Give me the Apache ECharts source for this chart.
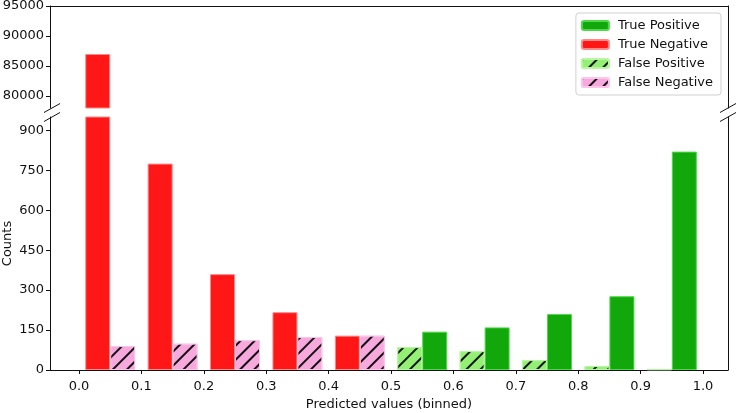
<!DOCTYPE html>
<html>
<head>
<meta charset="utf-8">
<script src="https://cdn.jsdelivr.net/npm/echarts@6/dist/echarts.min.js"></script>
<style>
  html, body { margin: 0; padding: 0; background: #fff; }
  #chart { width: 739px; height: 413px; }
</style>
</head>
<body>
<div id="chart"></div>
<script>
// bins (left edge of each 0.1 bin)
const negBins = [0.0, 0.1, 0.2, 0.3, 0.4];
const posBins = [0.5, 0.6, 0.7, 0.8, 0.9];
const trueNegative = [87000, 775, 360, 217, 129];
const falseNegative = [90, 99, 112, 124, 129];
const falsePositive = [86, 71, 37, 15, 3];
const truePositive = [144, 160, 210, 277, 820];
const xTicks = [0.0, 0.1, 0.2, 0.3, 0.4, 0.5, 0.6, 0.7, 0.8, 0.9, 1.0];
const lowerTicks = [0, 150, 300, 450, 600, 750, 900];
const upperTicks = [80000, 85000, 90000, 95000];

const font = 'DejaVu Sans';
const left = 50, right = 11;
const upperTop = 6, upperBottom = 108;
const lowerTop = 117, lowerBottom = 370;
// x axis runs from -0.0465 to 1.04; shifted so the axis starts at 0
// (keeps the y spine on the left edge)
const xShift = 0.0465;
const xSpan = 1.04 + xShift;
const barW = 25;
const toAxis = v => +(v + xShift).toFixed(4);

// bars sit in the first or second half of each bin
const firstHalf = (bins, vals) => bins.map((b, i) => [toAxis(b + 0.03), vals[i]]);
const secondHalf = (bins, vals) => bins.map((b, i) => [toAxis(b + 0.07), vals[i]]);

const hatch = () => ({
  symbol: 'rect',
  symbolSize: 1,
  color: '#111',
  dashArrayX: [1, 0],
  dashArrayY: [1.2, 7.6],
  rotation: -Math.PI / 4
});

const axisLine = () => ({ show: true, onZero: false, lineStyle: { color: '#111', width: 1 } });
const lineOnly = () => ({
  axisLine: axisLine(),
  axisTick: { show: false },
  axisLabel: { show: false },
  splitLine: { show: false }
});
const labelStyle = (ticks, margin, fmt) => ({
  customValues: ticks, margin: margin, fontFamily: font, fontSize: 13, color: '#111', formatter: fmt
});
const tickStyle = ticks => ({ show: true, length: 4, customValues: ticks, lineStyle: { color: '#111' } });

function breakMarks(x) {
  return [upperBottom, lowerTop].map(y => ({
    type: 'line',
    shape: { x1: x - 8, y1: y + 4.5, x2: x + 8, y2: y - 4.5 },
    style: { stroke: '#111', lineWidth: 1 },
    z: 100
  }));
}

const chart = echarts.init(document.getElementById('chart'));
chart.setOption({
  animation: false,
  textStyle: { fontFamily: font },
  grid: [
    { left: left, right: right, top: upperTop, height: upperBottom - upperTop, outerBoundsMode: 'none' },
    { left: left, right: right, top: lowerTop, height: lowerBottom - lowerTop, outerBoundsMode: 'none' }
  ],
  legend: {
    orient: 'vertical',
    right: 18,
    top: 13,
    itemWidth: 27,
    itemHeight: 9,
    itemGap: 6,
    padding: [6, 8, 6, 5],
    backgroundColor: '#fff',
    borderColor: '#d0d0d0',
    borderWidth: 1,
    borderRadius: 3,
    textStyle: { fontFamily: font, fontSize: 13, color: '#111', padding: [0, 0, 0, 4] },
    data: ['True Positive', 'True Negative', 'False Positive', 'False Negative']
  },
  xAxis: [
    Object.assign({ type: 'value', gridIndex: 0, position: 'top', min: 0, max: xSpan }, lineOnly()),
    {
      type: 'value', gridIndex: 1, position: 'bottom', min: 0, max: xSpan,
      name: 'Predicted values (binned)', nameLocation: 'middle', nameGap: 28,
      nameTextStyle: { fontFamily: font, fontSize: 13, color: '#111' },
      axisLine: axisLine(),
      axisTick: tickStyle(xTicks.map(toAxis)),
      axisLabel: labelStyle(xTicks.map(toAxis), 10, v => (v - xShift).toFixed(1)),
      splitLine: { show: false }
    }
  ],
  yAxis: [
    {
      type: 'value', gridIndex: 0, position: 'left', min: 78000, max: 95000,
      axisLine: axisLine(),
      axisTick: tickStyle(upperTicks),
      axisLabel: labelStyle(upperTicks, 6, v => String(v)),
      splitLine: { show: false }
    },
    Object.assign({ type: 'value', gridIndex: 0, position: 'right', min: 78000, max: 95000 }, lineOnly()),
    {
      type: 'value', gridIndex: 1, position: 'left', min: 0, max: 950,
      name: 'Counts', nameLocation: 'middle', nameGap: 36, nameMoveOverlap: false,
      nameTextStyle: { fontFamily: font, fontSize: 13, color: '#111' },
      axisLine: axisLine(),
      axisTick: tickStyle(lowerTicks),
      axisLabel: labelStyle(lowerTicks, 6, v => String(v)),
      splitLine: { show: false }
    },
    Object.assign({ type: 'value', gridIndex: 1, position: 'right', min: 0, max: 950 }, lineOnly())
  ],
  series: [
    {
      name: 'True Positive', type: 'bar', xAxisIndex: 1, yAxisIndex: 2,
      barWidth: barW, barGap: '-100%', clip: true,
      itemStyle: { color: '#12a80c', borderColor: '#4fd94a', borderWidth: 1 },
      data: secondHalf(posBins, truePositive)
    },
    {
      name: 'True Negative', type: 'bar', xAxisIndex: 1, yAxisIndex: 2,
      barWidth: barW, barGap: '-100%', clip: true,
      itemStyle: { color: '#ff1616', borderColor: '#ff8a8a', borderWidth: 1 },
      data: firstHalf(negBins, trueNegative)
    },
    {
      name: 'False Positive', type: 'bar', xAxisIndex: 1, yAxisIndex: 2,
      barWidth: barW, barGap: '-100%', clip: true,
      itemStyle: { color: '#94f074', borderColor: '#b6f7a0', borderWidth: 1, decal: hatch() },
      data: firstHalf(posBins, falsePositive)
    },
    {
      name: 'False Negative', type: 'bar', xAxisIndex: 1, yAxisIndex: 2,
      barWidth: barW, barGap: '-100%', clip: true,
      itemStyle: { color: '#f7a8dc', borderColor: '#fbc6ea', borderWidth: 1, decal: hatch() },
      data: secondHalf(negBins, falseNegative)
    },
    {
      name: 'True Negative', type: 'bar', xAxisIndex: 0, yAxisIndex: 0,
      barWidth: barW, clip: true,
      itemStyle: { color: '#ff1616', borderColor: '#ff8a8a', borderWidth: 1 },
      data: firstHalf(negBins, trueNegative)
    }
  ],
  graphic: breakMarks(left + 2).concat(breakMarks(739 - right))
});
</script>
</body>
</html>
